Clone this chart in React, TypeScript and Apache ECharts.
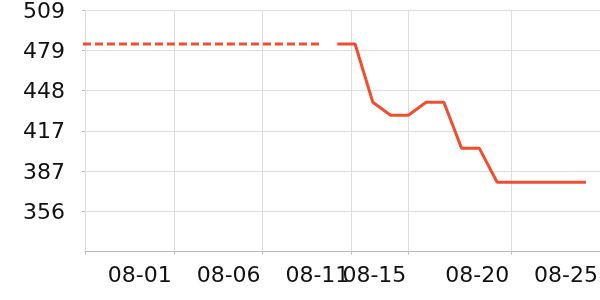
import React, { useEffect, useRef } from "react";
import * as echarts from "echarts";

// Data
const dashedDates = [
  "2024-07-26T05:00Z", "2024-07-27T05:00Z", "2024-07-28T05:00Z", "2024-07-29T05:00Z",
  "2024-07-30T05:00Z", "2024-07-31T05:00Z", "2024-08-01T05:00Z", "2024-08-02T05:00Z",
  "2024-08-03T05:00Z", "2024-08-04T05:00Z", "2024-08-05T05:00Z", "2024-08-06T05:00Z",
  "2024-08-07T05:00Z", "2024-08-08T05:00Z", "2024-08-09T05:00Z",
];
const dashedValues = [
  483.6, 483.6, 483.6, 483.6, 483.6, 483.6, 483.6, 483.6,
  483.6, 483.6, 483.6, 483.6, 483.6, 483.6, 483.6,
];
const solidDates = [
  "2024-08-10T05:00Z", "2024-08-11T05:00Z", "2024-08-12T05:00Z", "2024-08-13T05:00Z",
  "2024-08-14T05:00Z", "2024-08-15T05:00Z", "2024-08-16T05:00Z", "2024-08-17T05:00Z",
  "2024-08-18T05:00Z", "2024-08-19T05:00Z", "2024-08-20T05:00Z", "2024-08-21T05:00Z",
  "2024-08-22T05:00Z", "2024-08-23T05:00Z", "2024-08-24T05:00Z",
];
const solidValues = [
  483.6, 483.6, 439.1, 429.2, 429.2, 439.1, 439.1, 404.0,
  404.0, 378.1, 378.1, 378.1, 378.1, 378.1, 378.1,
];
const xTickDates = [
  "2024-07-27T00:00Z", "2024-08-01T00:00Z", "2024-08-06T00:00Z", "2024-08-11T00:00Z",
  "2024-08-14T05:00Z", "2024-08-20T00:00Z", "2024-08-25T00:00Z",
];
const xTickLabels = ["", "08-01", "08-06", "08-11", "08-15", "08-20", "08-25"];
const yTickValues = [356, 386.65, 417.3, 447.95, 478.6, 509.25];
const yTickLabels = ["356", "387", "417", "448", "479", "509"];
const yMin = 325.35;
const yMax = 509.25;
const xMin = "2024-07-27T00:00Z";
const xMax = "2024-08-25T00:00Z";

const LINE_COLOR = "#ef4e2f";
const FONT = "DejaVu Sans";

export default function App() {
  const ref = useRef<HTMLDivElement>(null);
  useEffect(() => {
    if (!ref.current) return;
    const chart = echarts.init(ref.current, undefined, { renderer: "svg" });
    const xTickNums = xTickDates.map((d) => Date.parse(d));
    const option: any = {
      animation: false,
      grid: {
        left: 85,
        right: 0,
        top: 10.3,
        bottom: 48.5,
        containLabel: false,
        outerBoundsMode: "none",
      },
      xAxis: {
        type: "value",
        min: Date.parse(xMin),
        max: Date.parse(xMax),
        axisLine: { show: true, lineStyle: { color: "#bbbbbb", width: 1 } },
        axisTick: { show: true, length: 3, lineStyle: { color: "#bbbbbb" }, customValues: xTickNums },
        splitLine: { show: true, lineStyle: { color: "#dddddd", width: 1 } },
        axisLabel: {
          customValues: xTickNums,
          hideOverlap: false,
          fontFamily: FONT,
          fontSize: 22,
          color: "#111111",
          align: "right",
          padding: [0, 2, 0, 0],
          margin: 12,
          formatter: (val: number) => {
            const i = xTickNums.findIndex((t) => Math.abs(t - val) < 1000);
            return i >= 0 ? xTickLabels[i] : "";
          },
        },
      },
      yAxis: {
        type: "value",
        min: yMin,
        max: yMax,
        axisLine: { show: false },
        axisTick: { show: true, length: 3, lineStyle: { color: "#bbbbbb" }, customValues: yTickValues },
        splitLine: { show: true, lineStyle: { color: "#dddddd", width: 1 } },
        axisLabel: {
          customValues: yTickValues,
          fontFamily: FONT,
          fontSize: 22,
          color: "#111111",
          margin: 20,
          formatter: (val: number) => {
            const i = yTickValues.findIndex((t) => Math.abs(t - val) < 0.01);
            return i >= 0 ? yTickLabels[i] : "";
          },
        },
      },
      series: [
        {
          type: "line",
          data: dashedDates.map((d, i) => [Date.parse(d), dashedValues[i]]),
          showSymbol: false,
          clip: true,
          lineStyle: { color: LINE_COLOR, width: 3, type: [8, 4] },
        },
        {
          type: "line",
          data: solidDates.map((d, i) => [Date.parse(d), solidValues[i]]),
          showSymbol: false,
          clip: true,
          lineStyle: { color: LINE_COLOR, width: 3, type: "solid" },
        },
      ],
    };
    chart.setOption(option);
    return () => chart.dispose();
  }, []);
  return (
    <div
      ref={ref}
      style={{ position: "fixed", left: 0, top: 0, width: 600, height: 300 }}
    />
  );
}
